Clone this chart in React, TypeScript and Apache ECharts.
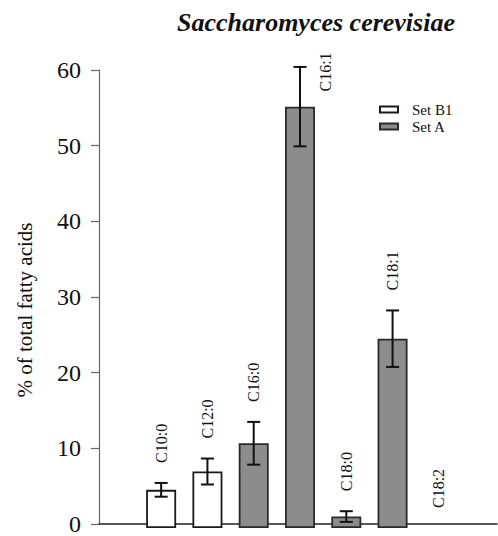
import React, { useEffect, useRef } from "react";
import * as echarts from "echarts";

const categories = ["C10:0", "C12:0", "C16:0", "C16:1", "C18:0", "C18:1", "C18:2"];
const setB1Values: (number | string)[] = [5.0, 7.4, "-", "-", "-", "-", "-"];
const setAValues: (number | string)[] = ["-", "-", 11.1, 55.2, 1.5, 24.8, 0];
const errors = [0.9, 1.7, 2.8, 5.2, 0.7, 3.7, 0];
const labelPlacement = ["top", "top", "top", "right", "top", "top", "top"];
const yTicks = [0, 10, 20, 30, 40, 50, 60];

const SERIF = "Liberation Serif";

function barData(vals: (number | string)[]) {
  return vals.map((v) =>
    v === 0 ? { value: 0, itemStyle: { borderWidth: 0, opacity: 0 } } : v
  );
}

export default function App() {
  const ref = useRef<HTMLDivElement>(null);
  useEffect(() => {
    if (!ref.current) return;
    const chart = echarts.init(ref.current, undefined, { renderer: "svg" });
    const values = categories.map((_, i) => {
      const a = setAValues[i];
      const b = setB1Values[i];
      return typeof a === "number" ? a : typeof b === "number" ? b : 0;
    });
    const errData = categories.map((_, i) => [i, values[i], errors[i]]);
    const option: any = {
      animation: false,
      backgroundColor: "#ffffff",
      title: {
        text: "Saccharomyces cerevisiae",
        left: 311,
        top: 4,
        textAlign: "center",
        textStyle: {
          fontFamily: SERIF,
          fontStyle: "italic",
          fontWeight: "bold",
          fontSize: 26,
          color: "#111",
        },
      },
      legend: {
        orient: "vertical",
        left: 374,
        top: 97,
        itemWidth: 18,
        itemHeight: 6,
        itemGap: 2,
        data: ["Set B1", "Set A"],
        icon: "rect",
        textStyle: {
          fontFamily: SERIF,
          fontSize: 15,
          lineHeight: 10,
          color: "#111",
          padding: [0, 0, 0, 9],
        },
      },
      graphic: [
        {
          type: "text",
          x: 25,
          y: 310,
          rotation: Math.PI / 2,
          style: {
            text: "% of total fatty acids",
            fontFamily: SERIF,
            fontSize: 21,
            fill: "#111",
            align: "center",
            verticalAlign: "middle",
          },
        },
      ],
      grid: [
        { left: 99, right: 1, top: 70, bottom: 8 },
        { left: 138, right: 36, top: 70, bottom: 8 },
      ],
      xAxis: [
        {
          gridIndex: 0,
          type: "value",
          min: 0,
          max: 1,
          axisLine: { show: true, onZero: false, lineStyle: { color: "#222", width: 1.5 } },
          axisTick: { show: false },
          axisLabel: { show: false },
          splitLine: { show: false },
        },
        {
          gridIndex: 1,
          type: "category",
          data: categories,
          axisLine: { show: false },
          axisTick: { show: false },
          axisLabel: { show: false },
        },
      ],
      yAxis: [
        {
          gridIndex: 0,
          type: "value",
          min: yTicks[0],
          max: yTicks[yTicks.length - 1],
          interval: 10,
          axisLine: { show: true, lineStyle: { color: "#666", width: 1.2 } },
          axisTick: { show: true, length: 8, lineStyle: { color: "#666", width: 1.2 } },
          axisLabel: { margin: 18, fontFamily: SERIF, fontSize: 24, color: "#111" },
          splitLine: { show: false },
        },
        {
          gridIndex: 1,
          type: "value",
          min: yTicks[0],
          max: yTicks[yTicks.length - 1],
          interval: 10,
          show: false,
        },
      ],
      series: [
        {
          name: "Set B1",
          type: "bar",
          xAxisIndex: 1,
          yAxisIndex: 1,
          data: barData(setB1Values),
          barWidth: 30,
          barGap: "-100%",
          itemStyle: { color: "#ffffff", borderColor: "#1a1a1a", borderWidth: 1.8 },
        },
        {
          name: "Set A",
          type: "bar",
          xAxisIndex: 1,
          yAxisIndex: 1,
          data: barData(setAValues),
          barWidth: 30,
          barGap: "-100%",
          itemStyle: { color: "#8c8c8c", borderColor: "#2a2a2a", borderWidth: 1.8 },
        },
        {
          type: "custom",
          xAxisIndex: 1,
          yAxisIndex: 1,
          data: errData,
          z: 10,
          renderItem: (params: any, api: any) => {
            const i = api.value(0);
            const v = api.value(1);
            const e = api.value(2);
            const top = api.coord([i, v + e]);
            const bot = api.coord([i, v - e]);
            const cx = top[0];
            const cap = 6.5;
            const children: any[] = [];
            const ls = { stroke: "#111", lineWidth: 2 };
            if (e > 0) {
              children.push(
                { type: "line", shape: { x1: cx, y1: top[1], x2: cx, y2: bot[1] }, style: ls },
                { type: "line", shape: { x1: cx - cap, y1: top[1], x2: cx + cap, y2: top[1] }, style: ls },
                { type: "line", shape: { x1: cx - cap, y1: bot[1], x2: cx + cap, y2: bot[1] }, style: ls }
              );
            }
            const place = labelPlacement[params.dataIndex];
            const textStyle = {
              text: categories[params.dataIndex],
              fontFamily: SERIF,
              fontSize: 16,
              fill: "#111",
              verticalAlign: "middle",
            };
            if (place === "right") {
              children.push({
                type: "text",
                x: cx + 25,
                y: top[1] + 5,
                rotation: Math.PI / 2,
                style: { ...textStyle, align: "center" },
              });
            } else {
              children.push({
                type: "text",
                x: cx,
                y: top[1] - 20,
                rotation: Math.PI / 2,
                style: { ...textStyle, align: "left" },
              });
            }
            return { type: "group", children };
          },
        },
      ],
    };
    chart.setOption(option);
    return () => chart.dispose();
  }, []);
  return (
    <div
      ref={ref}
      style={{ position: "fixed", left: 0, top: 0, width: 498, height: 536 }}
    />
  );
}
